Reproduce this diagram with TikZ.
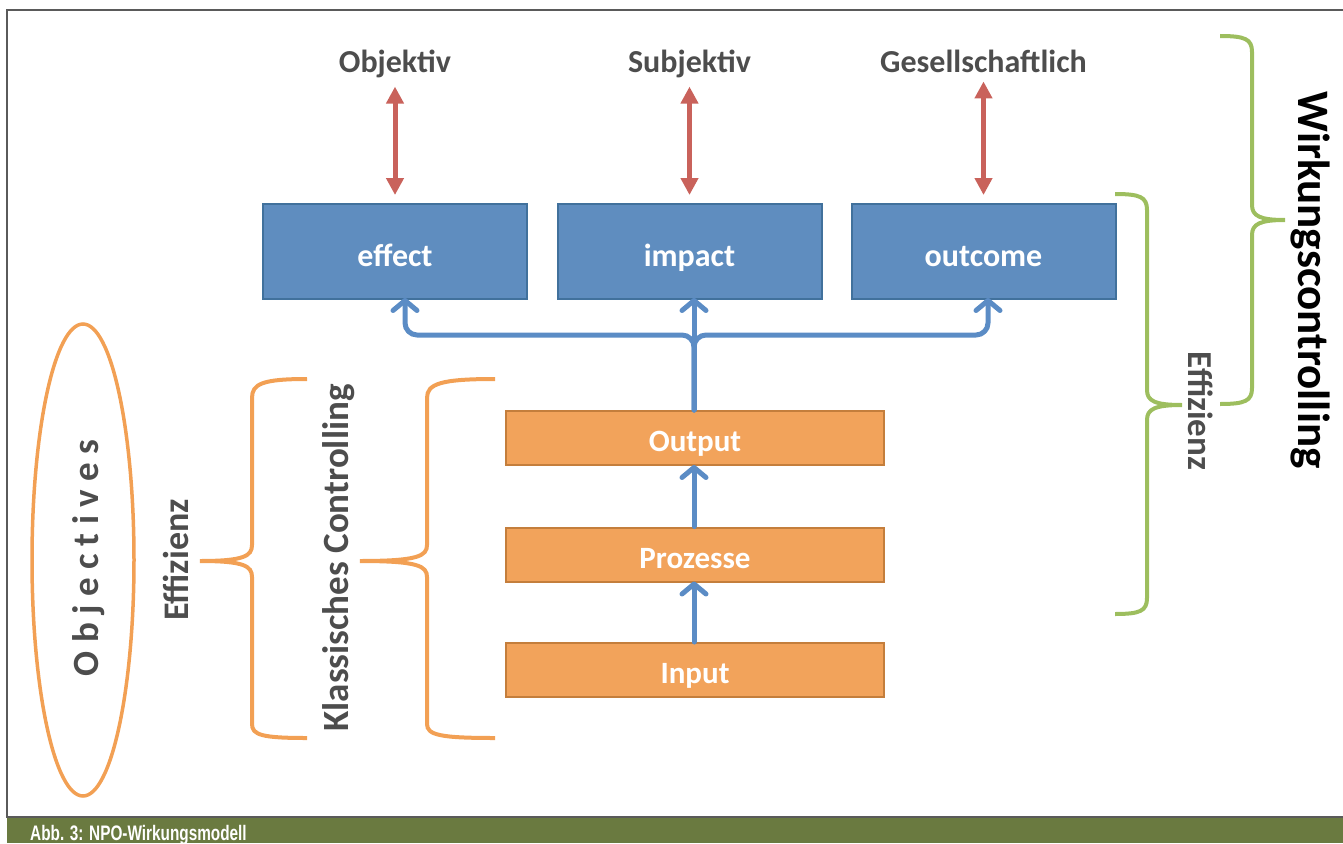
\documentclass[tikz,border=0pt]{standalone}
\usepackage{fontspec}
\setmainfont{Carlito}
\newfontfamily\capfont[FakeStretch=0.73]{Liberation Sans}
\usetikzlibrary{arrows.meta,shapes.geometric}
\definecolor{boxblue}{HTML}{5F8DBF}
\definecolor{boxblueline}{HTML}{41719C}
\definecolor{boxorange}{HTML}{F2A35B}
\definecolor{boxorangeline}{HTML}{C47E3C}
\definecolor{arrblue}{HTML}{5B8CC5}
\definecolor{arrred}{HTML}{C9625B}
\definecolor{braceorange}{HTML}{F2A054}
\definecolor{bracegreen}{HTML}{9DBE5E}
\definecolor{txtgray}{HTML}{4D4D4D}
\definecolor{capgreen}{HTML}{6A7A40}
\definecolor{framegray}{HTML}{5A5A5A}
\tikzset{
  bluebox/.style={draw=boxblueline, fill=boxblue, line width=2pt, minimum width=264pt, minimum height=95pt, inner sep=0pt, text height=29pt, text depth=0pt, text=white, font=\bfseries\fontsize{32}{38}\selectfont},
  orangebox/.style={draw=boxorangeline, fill=boxorange, line width=2pt, minimum width=378pt, minimum height=54pt, inner sep=0pt, text height=27pt, text depth=0pt, text=white, font=\bfseries\fontsize{31}{37}\selectfont},
  toplbl/.style={inner sep=0pt, text=txtgray, font=\bfseries\fontsize{32}{38}\selectfont},
  sidelbl/.style={inner sep=0pt, text=txtgray, font=\bfseries\fontsize{36}{42}\selectfont},
  barrow/.style={draw=arrblue, line width=5pt, line cap=round, line join=round, -{Straight Barb[length=10pt,width=24pt,round]}},
  rarrow/.style={draw=arrred, line width=5pt, {Triangle[width=17pt,length=17pt]}-{Triangle[width=17pt,length=17pt]}},
  obrace/.style={draw=braceorange, line width=4pt},
  gbrace/.style={draw=bracegreen, line width=4pt},
}
\begin{document}
\begin{tikzpicture}[x=1pt,y=-1pt]
\useasboundingbox (0,0) rectangle (1343,843);
% frame and caption bar
\fill[capgreen] (7,817) rectangle (1343,843);
\draw[framegray, line width=2pt] (1345,10) -- (7,10) -- (7,817) -- (1345,817);
\node[anchor=base west, inner sep=0pt, text=white, font=\capfont\bfseries\fontsize{21}{23}\selectfont] (cap) at (30,840.5) {Abb. 3: NPO-Wirkungsmodell};

% blue boxes
\node[bluebox] (effect) at (395,251.5) {effect};
\node[bluebox] (impact) at (689.5,251.5) {impact};
\node[bluebox] (outcome) at (983.5,251.5) {outcome};

% top labels
\node[toplbl, anchor=base] (objektiv) at (395,73) {Objektiv};
\node[toplbl, anchor=base] (subjektiv) at (689.5,73) {Subjektiv};
\node[toplbl, anchor=base] (gesell) at (983.5,73) {Gesellschaftlich};

\draw[rarrow, shorten <=8pt, shorten >=8pt] (objektiv.south) -- (effect.north);
\draw[rarrow, shorten <=8pt, shorten >=8pt] (subjektiv.south) -- (impact.north);
\draw[rarrow, shorten <=8pt, shorten >=8pt] (gesell.south) -- (outcome.north);

% orange boxes
\node[orangebox] (out) at (695,438) {Output};
\node[orangebox] (proz) at (695,554.5) {Prozesse};
\node[orangebox] (inp) at (695,670) {Input};

\coordinate (junc) at (694,335);
\draw[barrow, rounded corners=12pt] ([xshift=-1pt]out.north) -- (junc) -| ([xshift=10pt,yshift=2pt]effect.south);
\draw[barrow, rounded corners=12pt] ([xshift=-1pt]out.north) -- (junc) -| ([xshift=4.5pt,yshift=2pt]outcome.south);
\draw[barrow] ([xshift=-1pt]out.north) -- ([xshift=-1pt,yshift=2pt]out.north |- impact.south);
\draw[barrow] ([xshift=-1pt]proz.north) -- ([xshift=-1pt,yshift=1pt]out.south);
\draw[barrow] ([xshift=-1pt]inp.north) -- ([xshift=-1pt,yshift=1pt]proz.south);

% objectives ellipse
\node[ellipse, draw=braceorange, line width=3.5pt, minimum width=102pt, minimum height=472pt, inner sep=0pt] (objell) at (83,560) {};
\node[rotate=90, inner sep=0pt, text=txtgray, font=\bfseries\fontsize{37}{44}\selectfont] (objtxt) at (89,558) {O b j e c t i v e s};

% left labels and braces
\node[sidelbl, rotate=90] (eff1) at (176,560) {Effizienz};
\node[sidelbl, rotate=90, font=\bfseries\fontsize{37}{44}\selectfont] (klass) at (339,558) {Klassisches Controlling};

\draw[obrace] (307,379) .. controls (262,379) and (252,384) .. (252,398) -- (252,545)
  .. controls (252,556) and (244,561) .. (200,561)
  .. controls (244,561) and (252,566) .. (252,577) -- (252,724)
  .. controls (252,735) and (262,738) .. (307,738);
\draw[obrace] (495,379) .. controls (440,379) and (427,384) .. (427,398) -- (427,545)
  .. controls (427,556) and (418,561) .. (360,561)
  .. controls (418,561) and (427,566) .. (427,577) -- (427,724)
  .. controls (427,735) and (440,738) .. (495,738);

% right braces and labels
\draw[gbrace] (1115,194) .. controls (1140,194) and (1147,197) .. (1147,210) -- (1147,390)
  .. controls (1147,401) and (1155,405) .. (1182,405)
  .. controls (1155,405) and (1147,409) .. (1147,420) -- (1147,598)
  .. controls (1147,611) and (1140,614) .. (1115,614);
\draw[gbrace] (1220,36) .. controls (1245,36) and (1252,39) .. (1252,52) -- (1252,205)
  .. controls (1252,216) and (1260,220) .. (1285,220)
  .. controls (1260,220) and (1252,224) .. (1252,235) -- (1252,388)
  .. controls (1252,401) and (1245,404) .. (1220,404);
\node[sidelbl, rotate=-90, font=\bfseries\fontsize{35}{42}\selectfont] (eff2) at (1201,411) {Effizienz};
\node[rotate=-90, inner sep=0pt, text=black, font=\bfseries\fontsize{45}{52}\selectfont] (wirk) at (1310,280) {Wirkungscontrolling};
\end{tikzpicture}
\end{document}
